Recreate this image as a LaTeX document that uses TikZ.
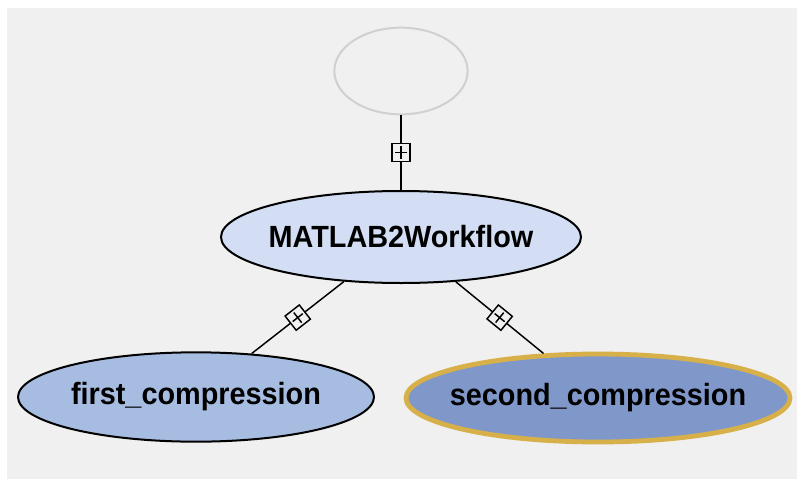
\documentclass[tikz,border=0pt]{standalone}
\usepackage{fontspec}
\setmainfont{Liberation Sans}
\newfontfamily\labelfont[FakeStretch=0.94]{Liberation Sans}
\usetikzlibrary{shapes.geometric}
\definecolor{canvas}{HTML}{F0F0F0}
\definecolor{ghost}{HTML}{D0D0D0}
\definecolor{wfblue}{HTML}{D3DDF3}
\definecolor{jobblue}{HTML}{A7BCE1}
\definecolor{selblue}{HTML}{7F98C9}
\definecolor{selgold}{HTML}{D8B04A}
\tikzset{
  x=0.75pt, y=-0.75pt,
  block/.style={ellipse, draw=black, line width=1.5pt, inner ysep=0pt, inner xsep=-40pt,
    font=\labelfont\fontsize{23}{27}\selectfont\bfseries},
  plusbox/.style={draw=black, fill=canvas, line width=1.1pt, minimum size=13.5pt,
    inner sep=0pt, sloped},
}
\begin{document}
\begin{tikzpicture}
      \useasboundingbox[fill=white] (0,0) rectangle (797,479);
      \fill[canvas] (7,8) rectangle (797,479);
      \draw
        (401,71) node[block, draw=ghost, fill=canvas, inner sep=0pt, minimum width=100pt, minimum height=65pt] (root){}
        (401,237) node[block, fill=wfblue, minimum width=270pt, minimum height=69pt] (wf){MATLAB2Workflow}
        (196,397) node[block, fill=jobblue, minimum width=267pt, minimum height=67pt] (first){first\_compression}
        (598,398) node[block, draw=selgold, line width=3.6pt, fill=selblue, minimum width=288pt, minimum height=66pt] (second){second\_compression};
      \begin{scope}[-, line width=1.1pt]
        \draw (root) -- node[plusbox] (m0){} (wf);
        \draw (wf) -- node[plusbox] (m1){} (first);
        \draw (wf) -- node[plusbox] (m2){} (second);
      \end{scope}
      \begin{scope}[line width=1.1pt, shorten <=2.5pt, shorten >=2.5pt]
        \foreach \m in {m0,m1,m2} {
          \draw (\m.north) -- (\m.south);
          \draw (\m.west) -- (\m.east);
        }
      \end{scope}
    \end{tikzpicture}
\end{document}
